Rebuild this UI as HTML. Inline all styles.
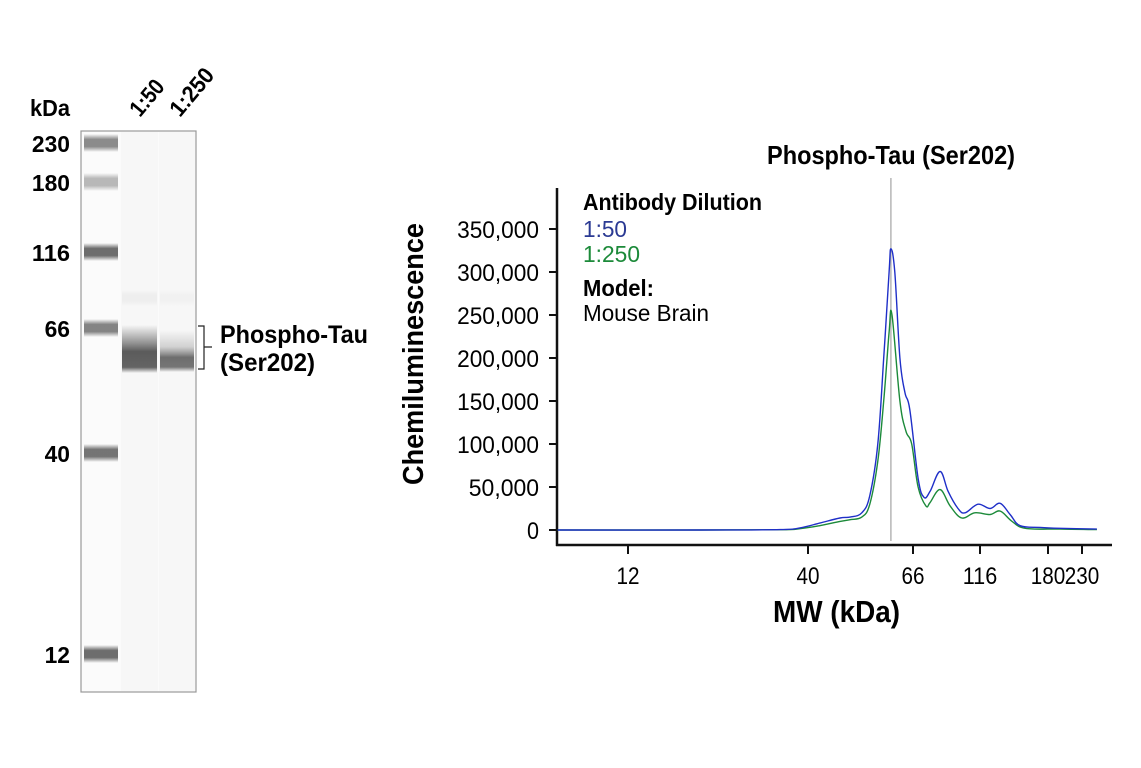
<!DOCTYPE html>
<html><head><meta charset="utf-8"><style>
html,body{margin:0;padding:0;background:#fff;}
svg{display:block;font-family:"Liberation Sans Narrow","Liberation Sans",sans-serif;}
</style></head><body>
<svg id="fig" width="1141" height="768" viewBox="0 0 1141 768" xmlns="http://www.w3.org/2000/svg">
<defs>
<linearGradient id="bandG" x1="0" y1="0" x2="0" y2="1">
<stop offset="0" stop-color="#555" stop-opacity="0"/><stop offset="0.3" stop-color="#555" stop-opacity="0.9"/><stop offset="0.7" stop-color="#555" stop-opacity="0.9"/><stop offset="1" stop-color="#555" stop-opacity="0"/>
</linearGradient>
<linearGradient id="tauG1" x1="0" y1="0" x2="0" y2="1">
<stop offset="0" stop-color="#666" stop-opacity="0"/><stop offset="0.3" stop-color="#666" stop-opacity="0.55"/><stop offset="0.55" stop-color="#4a4a4a" stop-opacity="0.9"/><stop offset="0.88" stop-color="#4a4a4a" stop-opacity="0.85"/><stop offset="1" stop-color="#4a4a4a" stop-opacity="0"/>
</linearGradient>
<linearGradient id="tauG2" x1="0" y1="0" x2="0" y2="1">
<stop offset="0" stop-color="#777" stop-opacity="0"/><stop offset="0.4" stop-color="#777" stop-opacity="0.3"/><stop offset="0.65" stop-color="#555" stop-opacity="0.85"/><stop offset="0.88" stop-color="#555" stop-opacity="0.8"/><stop offset="1" stop-color="#555" stop-opacity="0"/>
</linearGradient>
</defs>

<g>
<text x="30" y="116" font-size="23" font-weight="bold" textLength="40" lengthAdjust="spacingAndGlyphs">kDa</text>
<text transform="translate(140,118) rotate(-50)" font-size="23" font-weight="bold" textLength="40" lengthAdjust="spacingAndGlyphs">1:50</text>
<text transform="translate(180,118) rotate(-50)" font-size="23" font-weight="bold" textLength="55" lengthAdjust="spacingAndGlyphs">1:250</text>
<rect x="81" y="131" width="115" height="561" fill="#fbfbfb" stroke="#999" stroke-width="1.2"/>
<rect x="121" y="132" width="37" height="559" fill="#f7f7f7"/>
<rect x="159" y="132" width="36" height="559" fill="#f7f7f7"/>
<g id="ladder"></g>
<rect x="122" y="290" width="35" height="16" fill="url(#bandG)" opacity="0.06"/>
<rect x="160" y="290" width="34" height="16" fill="url(#bandG)" opacity="0.04"/>
<rect x="122" y="325" width="35" height="48" fill="url(#tauG1)"/>
<rect x="160" y="330" width="34" height="42" fill="url(#tauG2)"/>
<g id="ladderLabels" font-size="23" font-weight="bold" text-anchor="end"></g>
<path d="M198 326 H204 V369 H198 M204 347 H212" fill="none" stroke="#222" stroke-width="1.2"/>
<text x="220" y="343" font-size="25" font-weight="bold" textLength="148" lengthAdjust="spacingAndGlyphs">Phospho-Tau</text>
<text x="220" y="371" font-size="25" font-weight="bold" textLength="95" lengthAdjust="spacingAndGlyphs">(Ser202)</text>
</g>

<g id="chart">
<text x="767" y="164" font-size="26" font-weight="bold" textLength="248" lengthAdjust="spacingAndGlyphs">Phospho-Tau (Ser202)</text>
<text transform="translate(423,485) rotate(-90)" font-size="29" font-weight="bold" textLength="262" lengthAdjust="spacingAndGlyphs">Chemiluminescence</text>
<text x="773" y="622" font-size="31" font-weight="bold" textLength="127" lengthAdjust="spacingAndGlyphs">MW (kDa)</text>
<g id="axes"></g>
<g id="series"></g>
<g>
<text x="583" y="210" font-size="23" font-weight="bold" textLength="179" lengthAdjust="spacingAndGlyphs">Antibody Dilution</text>
<text x="583" y="237" font-size="23" fill="#2b3a93" textLength="44" lengthAdjust="spacingAndGlyphs">1:50</text>
<text x="583" y="262" font-size="23" fill="#1c8a3a" textLength="57" lengthAdjust="spacingAndGlyphs">1:250</text>
<text x="583" y="296" font-size="23" font-weight="bold" textLength="71" lengthAdjust="spacingAndGlyphs">Model:</text>
<text x="583" y="321" font-size="23" textLength="126" lengthAdjust="spacingAndGlyphs">Mouse Brain</text>
</g>
</g>
</svg>
<script>
const ladderKDa = [230, 180, 116, 66, 40, 12];
const ladderY = [143, 182, 252, 328, 453, 654];
const ladderIntensity = [0.75, 0.45, 0.95, 0.8, 0.9, 0.95];

const xTickLabels = [12, 40, 66, 116, 180, 230];
const yTicks = [0, 50000, 100000, 150000, 200000, 250000, 300000, 350000];
const mwBlue = [7.5, 19.4, 33.2, 37.9, 42.3, 46.6, 48.9, 51.7, 53.7, 55.8, 57.4, 58.9, 59.4, 60.5, 62.0, 63.5, 65.0, 68.9, 72.4, 76.2, 82.9, 88.7, 96.4, 102.3, 114.1, 123.8, 132.1, 140.9, 150.3, 171, 196, 256];
const valBlue = [0, 0, 500, 2500, 8000, 14000, 15000, 20000, 40000, 100000, 200000, 300000, 327000, 300000, 200000, 160000, 140000, 60000, 38000, 45000, 68000, 45000, 25000, 20000, 30000, 25000, 31000, 18000, 5000, 3000, 2000, 1000];
const mwGreen = [7.5, 19.4, 33.2, 37.9, 42.3, 46.6, 48.9, 51.7, 53.7, 55.8, 57.4, 58.9, 59.7, 62.0, 63.8, 65.6, 68.9, 73.6, 76.2, 82.9, 90.2, 99.5, 111, 123.8, 132.1, 142.7, 155.5, 196, 256];
const valGreen = [0, 0, 300, 1500, 5000, 10000, 12000, 15000, 30000, 80000, 150000, 230000, 250000, 150000, 115000, 100000, 50000, 28000, 32000, 47000, 28000, 14000, 20000, 18000, 22000, 10000, 2000, 1000, 500];
const markerLine = 59.4;

const NS = "http://www.w3.org/2000/svg";
function mk(tag, attrs, parent){const e=document.createElementNS(NS,tag);for(const k in attrs)e.setAttribute(k,attrs[k]);parent.appendChild(e);return e;}

const lad = document.getElementById('ladder');
const labs = document.getElementById('ladderLabels');
ladderKDa.forEach((k,i)=>{
  const r = mk('rect',{x:84,y:ladderY[i]-9,width:34,height:18,fill:'url(#bandG)',opacity:ladderIntensity[i]},lad);
  
  
  const t = mk('text',{x:70,y:ladderY[i]+9},labs);
  t.textContent = k;
  const w = String(k).length*12.7;
  t.setAttribute('textLength', w);
  t.setAttribute('lengthAdjust','spacingAndGlyphs');
  
  
});

const calMW = [12, 40, 66, 116, 180, 230];
const calPx = [628, 808, 913, 980, 1048, 1082];
function xScale(mw){
  const l = Math.log(mw);
  let i = 0;
  if (l <= Math.log(calMW[1])) i = 0;
  else if (l >= Math.log(calMW[calMW.length-2])) i = calMW.length-2;
  else { while (Math.log(calMW[i+1]) < l) i++; }
  const l0=Math.log(calMW[i]), l1=Math.log(calMW[i+1]);
  return calPx[i] + (l-l0)/(l1-l0)*(calPx[i+1]-calPx[i]);
}
function yScale(v){ return 530 - v/50000*43; }

const axes = document.getElementById('axes');
let e = mk('line',{x1:557,y1:188,x2:557,y2:546,stroke:'#111','stroke-width':2.5},axes);


e = mk('line',{x1:556,y1:545,x2:1112,y2:545,stroke:'#111','stroke-width':2.5},axes);


yTicks.forEach(v=>{
  const y = yScale(v);
  const tk = mk('line',{x1:549,y1:y,x2:557,y2:y,stroke:'#111','stroke-width':2},axes);
  
  
  const s = v.toLocaleString('en-US');
  const t = mk('text',{x:539,y:y+9,'font-size':24,'text-anchor':'end',textLength:(s.length===1?12:s.length*11.7),lengthAdjust:'spacingAndGlyphs'},axes);
  t.textContent = s;
  
  
});
xTickLabels.forEach(k=>{
  const x = xScale(k);
  const tk = mk('line',{x1:x,y1:545,x2:x,y2:554,stroke:'#111','stroke-width':2},axes);
  
  
  const s = String(k);
  const t = mk('text',{x:x,y:584,'font-size':24,'text-anchor':'middle',textLength:s.length*11.5,lengthAdjust:'spacingAndGlyphs'},axes);
  t.textContent = s;
  
  
});
const ser = document.getElementById('series');
const ml = mk('line',{x1:xScale(markerLine),y1:178,x2:xScale(markerLine),y2:541,stroke:'#aaa','stroke-width':1.3},ser);


function pathFor(mws, vals){
  const p = mws.map((m,i)=>[xScale(m), yScale(vals[i])]);
  let d = 'M'+p[0][0].toFixed(1)+' '+p[0][1].toFixed(1);
  for (let i=0;i<p.length-1;i++){
    const p0=p[Math.max(0,i-1)], p1=p[i], p2=p[i+1], p3=p[Math.min(p.length-1,i+2)];
    const t=0.18;
    const c1=[p1[0]+(p2[0]-p0[0])*t, p1[1]+(p2[1]-p0[1])*t];
    const c2=[p2[0]-(p3[0]-p1[0])*t, p2[1]-(p3[1]-p1[1])*t];
    d += ' C'+c1[0].toFixed(1)+' '+c1[1].toFixed(1)+' '+c2[0].toFixed(1)+' '+c2[1].toFixed(1)+' '+p2[0].toFixed(1)+' '+p2[1].toFixed(1);
  }
  return d;
}
const pg = mk('path',{d:pathFor(mwGreen,valGreen),fill:'none',stroke:'#1c8a3a','stroke-width':1.4,'stroke-linejoin':'round'},ser);


const pb = mk('path',{d:pathFor(mwBlue,valBlue),fill:'none',stroke:'#1f2fc8','stroke-width':1.4,'stroke-linejoin':'round'},ser);


</script>
</body></html>
